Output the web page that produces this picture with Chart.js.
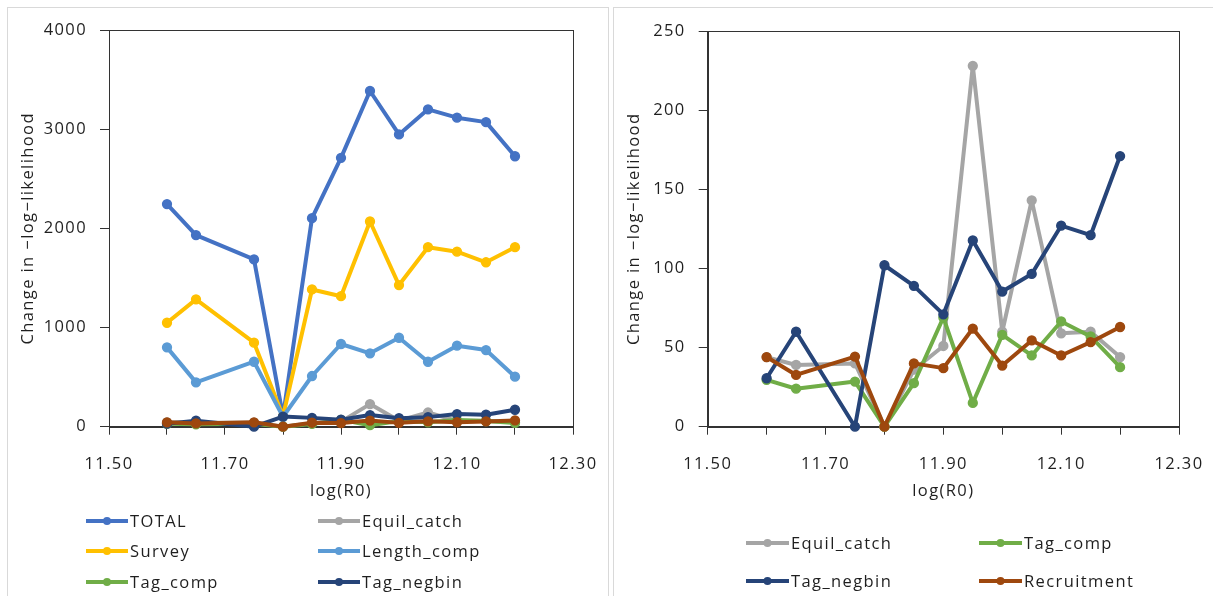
<!DOCTYPE html>
<html>
<head>
<meta charset="utf-8">
<script src="https://cdn.jsdelivr.net/npm/chart.js@4.4.1/dist/chart.umd.min.js"></script>
<style>
  html, body { margin: 0; padding: 0; background: #fff; width: 1213px; height: 596px; overflow: hidden; }
  .panel { position: absolute; border: 1px solid #d9d9d9; background: #fff; }
  #panelA { left: 7px; top: 7px; width: 600px; height: 600px; }
  #panelB { left: 613px; top: 7px; width: 610px; height: 600px; }
  canvas { position: absolute; left: 0; top: 0; }
</style>
</head>
<body>
<div class="panel" id="panelA"><canvas id="chartA" width="600" height="588"></canvas></div>
<div class="panel" id="panelB"><canvas id="chartB" width="600" height="588"></canvas></div>
<script>
// log(R0) values of the profile runs
const logR0 = [11.60, 11.65, 11.75, 11.80, 11.85, 11.90, 11.95, 12.00, 12.05, 12.10, 12.15, 12.20];

// Change in -log-likelihood per component
const total       = [2245, 1932, 1687, 105, 2103, 2711, 3385, 2947, 3200, 3116, 3071, 2727];
const survey      = [1048, 1284, 847, 105, 1384, 1316, 2069, 1428, 1810, 1765, 1658, 1810];
const lengthComp  = [800, 447, 655, 100, 511, 834, 740, 897, 655, 817, 773, 504];
const equilCatch  = [44, 39, 40, 0, 36, 51, 228, 60, 143, 59, 60, 44];
const tagComp     = [29.6, 24, 28.5, 0, 27.5, 69, 15, 58, 45, 66.5, 57, 37.6];
const tagNegbin   = [30.6, 60, 0, 102, 89, 71, 117.7, 85.4, 96.5, 127, 121, 171];
const recruitment = [44, 32.7, 44.3, 0, 40, 37, 62, 38.6, 54.5, 45, 53.4, 63];

// Axis ticks
const xTicks      = [11.5, 11.6, 11.7, 11.8, 11.9, 12.0, 12.1, 12.2, 12.3];
const xTickLabels = ['11.50', '', '11.70', '', '11.90', '', '12.10', '', '12.30'];
const yTicksA     = [0, 1000, 2000, 3000, 4000];
const yTicksB     = [0, 50, 100, 150, 200, 250];

const COLORS = {
  TOTAL: '#4472C4', Equil_catch: '#A5A5A5', Survey: '#FFC000', Length_comp: '#5B9BD5',
  Tag_comp: '#70AD47', Tag_negbin: '#264478', Recruitment: '#9E480E'
};
const FONT = "'Open Sans', 'DejaVu Sans', sans-serif";
const TEXT = '#1f1f1f';
const AXIS = '#333333';

function series(label, values, idx) {
  const c = COLORS[label];
  return {
    label,
    data: logR0.map((x, i) => ({ x, y: values[i] })),
    borderColor: c, backgroundColor: c,
    pointBackgroundColor: c, pointBorderColor: c,
    borderWidth: 4, pointRadius: 4.4, pointBorderWidth: 1.5, pointHoverRadius: 4.4,
    borderJoinStyle: 'round', borderCapStyle: 'round',
    tension: 0, clip: false, order: -idx
  };
}

// Wider letter spacing for all canvas text
const spacing = {
  id: 'spacing',
  beforeUpdate(chart) { chart.ctx.letterSpacing = '1.4px'; },
  beforeLayout(chart) { chart.ctx.letterSpacing = '1.4px'; },
  beforeDraw(chart) { chart.ctx.letterSpacing = '1.4px'; }
};

// Frame around the plot area
const plotFrame = {
  id: 'plotFrame',
  beforeDatasetsDraw(chart) {
    const { ctx, chartArea: a } = chart;
    ctx.save();
    ctx.strokeStyle = AXIS;
    ctx.lineWidth = 1;
    ctx.strokeRect(Math.round(a.left) + 0.5, Math.round(a.top) + 0.5,
                   Math.round(a.right - a.left), Math.round(a.bottom - a.top));
    ctx.restore();
  }
};

// Legend laid out as a two-column grid
const gridLegend = {
  id: 'gridLegend',
  afterDraw(chart, args, opts) {
    const ctx = chart.ctx;
    ctx.save();
    ctx.font = '16.5px ' + FONT;
    ctx.textBaseline = 'middle';
    ctx.textAlign = 'left';
    for (const it of opts.items) {
      const ds = chart.data.datasets[it.index];
      ctx.strokeStyle = ds.borderColor;
      ctx.lineWidth = 4;
      ctx.lineCap = 'butt';
      ctx.beginPath();
      ctx.moveTo(it.x, it.y);
      ctx.lineTo(it.x + opts.len, it.y);
      ctx.stroke();
      ctx.fillStyle = ds.borderColor;
      ctx.beginPath();
      ctx.arc(it.x + opts.len / 2, it.y, 4, 0, Math.PI * 2);
      ctx.fill();
      ctx.fillStyle = TEXT;
      ctx.fillText(ds.label, it.x + opts.len + 2, it.y + 1);
    }
    ctx.restore();
  }
};

function makeChart(id, datasets, yMax, yTicks, yWidth, padTop, legendItems, legendLen) {
  return new Chart(document.getElementById(id), {
    type: 'line',
    data: { datasets },
    plugins: [spacing, plotFrame, gridLegend],
    options: {
      responsive: false,
      animation: false,
      events: [],
      layout: { padding: { left: 0, top: padTop, right: 35, bottom: 84.3 } },
      plugins: {
        legend: { display: false },
        tooltip: { enabled: false },
        gridLegend: { items: legendItems, len: legendLen }
      },
      scales: {
        x: {
          type: 'linear', position: 'bottom', min: 11.5, max: 12.3,
          afterBuildTicks(scale) { scale.ticks = xTicks.map(v => ({ value: v })); },
          afterFit(scale) {
            scale.height = 85;
            scale.paddingLeft = 0;
            scale.paddingRight = 0;
          },
          grid: { display: true, drawOnChartArea: false, drawTicks: true, tickLength: 8, color: AXIS, lineWidth: 1 },
          border: { display: true, color: AXIS, width: 1 },
          ticks: {
            autoSkip: false, maxRotation: 0, padding: 20,
            color: TEXT, font: { family: FONT, size: 16.5 },
            callback: (v, i) => xTickLabels[i]
          },
          title: {
            display: true, text: 'log(R0)', color: TEXT,
            font: { family: FONT, size: 16.5 }, padding: { top: 0, bottom: 11 }
          }
        },
        y: {
          type: 'linear', min: 0, max: yMax,
          afterBuildTicks(scale) { scale.ticks = yTicks.map(v => ({ value: v })); },
          afterFit(scale) {
            scale.width = yWidth;
            scale.paddingTop = 0;
            scale.paddingBottom = 0;
          },
          grid: { display: true, drawOnChartArea: false, drawTicks: true, tickLength: 9, color: AXIS, lineWidth: 1 },
          border: { display: true, color: AXIS, width: 1 },
          ticks: {
            padding: 13, color: TEXT, font: { family: FONT, size: 16.5 },
            callback: v => String(v)
          },
          title: {
            display: true, text: 'Change in \u2212log\u2212likelihood', color: TEXT,
            font: { family: FONT, size: 16.5 }, padding: { top: 10, bottom: 0 }
          }
        }
      }
    }
  });
}

makeChart('chartA', [
  series('TOTAL', total, 0),
  series('Equil_catch', equilCatch, 1),
  series('Survey', survey, 2),
  series('Length_comp', lengthComp, 3),
  series('Tag_comp', tagComp, 4),
  series('Tag_negbin', tagNegbin, 5),
  series('Recruitment', recruitment, 6)
], 4000, yTicksA, 101, 22, [
  { index: 0, x: 78,  y: 513 }, { index: 1, x: 310, y: 513 },
  { index: 2, x: 78,  y: 543 }, { index: 3, x: 310, y: 543 },
  { index: 4, x: 78,  y: 574 }, { index: 5, x: 310, y: 574 }
], 42);

makeChart('chartB', [
  series('Equil_catch', equilCatch, 0),
  series('Tag_comp', tagComp, 1),
  series('Tag_negbin', tagNegbin, 2),
  series('Recruitment', recruitment, 3)
], 250, yTicksB, 93.7, 23, [
  { index: 0, x: 132, y: 535 }, { index: 1, x: 365, y: 535 },
  { index: 2, x: 132, y: 573 }, { index: 3, x: 365, y: 573 }
], 43);
</script>
</body>
</html>
